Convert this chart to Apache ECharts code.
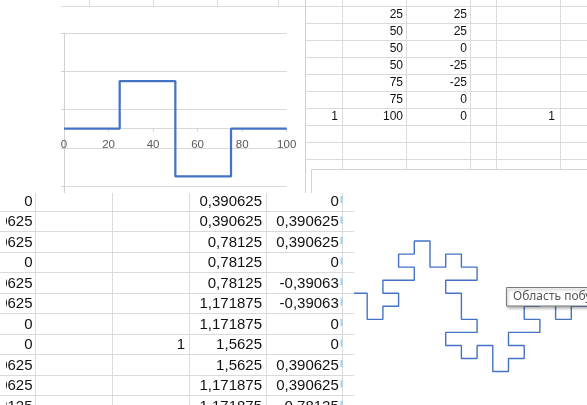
<!DOCTYPE html>
<html><head><meta charset="utf-8">
<script src="https://cdn.jsdelivr.net/npm/echarts@6/dist/echarts.min.js"></script>
<style>html,body{margin:0;padding:0;background:#fff;overflow:hidden}#c{width:587px;height:405px}</style>
</head><body><div id="c"></div>
<script>
// ---- Generator (step chart) ----
const stepX = [0, 25, 25, 50, 50, 50, 75, 75, 100];
const stepY = [0, 0, 25, 25, 0, -25, -25, 0, 0];
const stepXTicks = [0, 20, 40, 60, 80, 100];

// ---- Level-2 curve ----
const fracX = [0, 0.390625, 0.390625, 0.78125, 0.78125, 0.78125, 1.171875, 1.171875, 1.5625, 1.5625,
  1.171875, 1.171875, 1.5625, 1.953125, 1.953125, 1.5625, 1.5625, 1.953125, 1.953125, 2.34375,
  2.34375, 2.34375, 2.734375, 2.734375, 3.125, 3.125, 3.515625, 3.515625, 3.125, 2.734375,
  2.734375, 3.125, 3.125, 3.125, 3.515625, 3.515625, 3.125, 2.734375, 2.734375, 3.125,
  3.125, 3.515625, 3.515625, 3.90625, 3.90625, 3.90625, 4.296875, 4.296875, 4.6875, 4.6875,
  4.296875, 4.296875, 4.6875, 5.078125, 5.078125, 4.6875, 4.6875, 5.078125, 5.078125, 5.46875,
  5.46875, 5.46875, 5.859375, 5.859375, 6.25];
const fracY = [0, 0, 0.390625, 0.390625, 0, -0.390625, -0.390625, 0, 0, 0.390625,
  0.390625, 0.78125, 0.78125, 0.78125, 1.171875, 1.171875, 1.5625, 1.5625, 1.953125, 1.953125,
  1.5625, 1.171875, 1.171875, 1.5625, 1.5625, 1.171875, 1.171875, 0.78125, 0.78125, 0.78125,
  0.390625, 0.390625, 0, -0.390625, -0.390625, -0.78125, -0.78125, -0.78125, -1.171875, -1.171875,
  -1.5625, -1.5625, -1.171875, -1.171875, -1.5625, -1.953125, -1.953125, -1.5625, -1.5625, -1.171875,
  -1.171875, -0.78125, -0.78125, -0.78125, -0.390625, -0.390625, 0, 0, 0.390625, 0.390625,
  0, -0.390625, -0.390625, 0, 0];

// ---- Spreadsheet cell texts ----
const topRowStart = 2;
const topMarkRow = 6;
const botRowStart = 1;
const botRows = 11;
const botMarkRow = 7;
const markText = '1';

function fmtFull(v){ return String(v).replace('.', ','); }
function fmtGeneral(v){
  let s = String(v);
  if (s.length > 8) s = String(Number(v.toFixed(5)));
  if (s.length > 8) s = v.toFixed(5);
  return s.replace('.', ',');
}

const GRID = '#dadada';
const TXT = '#111111';
const els = [];
function line(x1,y1,x2,y2,color,w,z,dash,dashOff){
  els.push({type:'line', silent:true, z:z, shape:{x1:x1,y1:y1,x2:x2,y2:y2},
    style:{stroke:color, lineWidth:w||1, lineDash:dash||null, lineDashOffset:dashOff||0}});
}
function text(s,x,y,size,z,align,color,family){
  els.push({type:'text', silent:true, z:z, x:x, y:y,
    style:{text:s, fill:color||TXT, font:size+'px '+(family||'"Liberation Sans", Arial, sans-serif'),
      align:align||'right', verticalAlign:'middle'}});
}

// top-left pane decorations
line(61, 6.5, 305, 6.5, GRID, 1, -5);
[89.5, 153.5, 217.5, 278.5].forEach(x => line(x, 0, x, 6, GRID, 1, -5));
line(305.5, 0, 305.5, 193, '#cfcfcf', 1, -5);

// top-right table
const topRowLines = [6.5, 23.5, 40.5, 57.5, 74.5, 91.5, 108.5, 125.5, 142.5, 159.5];
topRowLines.forEach(y => line(305, y, 587, y, GRID, 1, -5));
[342.5, 406.5, 470.5, 496.5, 560.5].forEach(x => line(x, 0, x, 169, GRID, 1, -5));
for (let r = 0; r < stepX.length - topRowStart; r++) {
  const cy = 14.7 + 17.05 * r;
  text(String(stepX[r + topRowStart]), 403, cy, 12, 5);
  text(String(stepY[r + topRowStart]), 467, cy, 12, 5);
  if (r === topMarkRow) { text(markText, 338, cy, 12, 5); text(markText, 555, cy, 12, 5); }
}

// fractal chart area frame
els.push({type:'rect', silent:true, z:-4, shape:{x:311.5, y:169.5, width:300, height:260},
  style:{fill:'#fff', stroke:'#d4d4d4', lineWidth:1}});

// bottom-left pane
els.push({type:'rect', silent:true, z:100, shape:{x:0, y:193, width:354, height:212}, style:{fill:'#fff'}});
for (let i = 0; i < 10; i++) {
  const y = Math.round(210.7 + 20.5 * i) + 0.5;
  line(0, y, 354, y, GRID, 1, 101);
}
[35.5, 112.5, 189.5, 266.5, 342.5].forEach(x => line(x, 193, x, 405, GRID, 1, 101));
line(341.5, 196, 341.5, 405, '#9fd3f0', 2, 102, [7, 13.5], 0);
for (let r = 0; r < botRows; r++) {
  const i = r + botRowStart;
  const cy = 201.7 + 20.5 * r;
  text(fmtFull(fracY[i]), 32.5, cy, 15, 103);
  text(fmtGeneral(fracX[i]), 262, cy, 15, 103);
  text(fmtGeneral(fracY[i]), 338.8, cy, 15, 103);
  if (r === botMarkRow) text(markText, 185, cy, 15, 103);
}
els.push({type:'rect', silent:true, z:104, shape:{x:0, y:193, width:6, height:212}, style:{fill:'#fff'}});
for (let i = 0; i < 10; i++) {
  const y = Math.round(210.7 + 20.5 * i) + 0.5;
  line(0, y, 6, y, GRID, 1, 105);
}

// hover tooltip box
els.push({type:'rect', silent:true, z:120, shape:{x:506.5, y:287.5, width:110, height:18.5},
  style:{fill:'#fff', stroke:'#7a7a7a', lineWidth:1, shadowBlur:3, shadowOffsetX:1, shadowOffsetY:2, shadowColor:'rgba(0,0,0,0.35)'}});
text('Область побу', 513, 297, 12, 121, 'left', '#575757', '"Noto Sans", "Open Sans", sans-serif');

const chart = echarts.init(document.getElementById('c'), null, {renderer:'canvas'});
chart.setOption({
  animation: false,
  backgroundColor: '#fff',
  grid: [
    {left: 64, top: 33.3, width: 222.7, height: 190.8},
    {left: 335.8, top: 222.8, width: 265.8, height: 167}
  ],
  xAxis: [
    {gridIndex: 0, type: 'value', position: 'bottom', offset: -95.4,
      min: stepXTicks[0], max: stepXTicks[stepXTicks.length-1], interval: 20,
      axisLine: {show: true, onZero: false, lineStyle: {color: '#d9d9d9', width: 1}},
      axisTick: {show: true, length: 3, lineStyle: {color: '#d0d0d0'}},
      axisLabel: {show: true, color: '#595959', fontSize: 11.5, margin: 10, fontFamily: '"Liberation Sans", Arial, sans-serif',
        showMinLabel: true, showMaxLabel: true},
      splitLine: {show: false}},
    {gridIndex: 1, type: 'value', min: 0, max: 6.25, show: false, splitLine: {show: false}}
  ],
  yAxis: [
    {gridIndex: 0, type: 'value', min: -50, max: 50, interval: 20,
      axisLine: {show: true, onZero: false, lineStyle: {color: '#d0d0d0', width: 1}},
      axisTick: {show: true, length: 3, lineStyle: {color: '#d0d0d0'}},
      axisLabel: {show: false},
      splitLine: {show: true, lineStyle: {color: '#d9d9d9', width: 1}}},
    {gridIndex: 1, type: 'value', min: -2.5, max: 2.5, show: false, splitLine: {show: false}}
  ],
  series: [
    {type: 'line', xAxisIndex: 0, yAxisIndex: 0, silent: true, showSymbol: false, symbol: 'none', z: 3,
      data: stepX.map((x, i) => [x, stepY[i]]),
      lineStyle: {color: '#4472C4', width: 2.25}},
    {type: 'line', xAxisIndex: 1, yAxisIndex: 1, silent: true, showSymbol: false, symbol: 'none',
      data: fracX.map((x, i) => [x, fracY[i]]),
      lineStyle: {color: '#4472C4', width: 1.4}}
  ],
  graphic: {elements: els}
});
</script>
</body></html>
